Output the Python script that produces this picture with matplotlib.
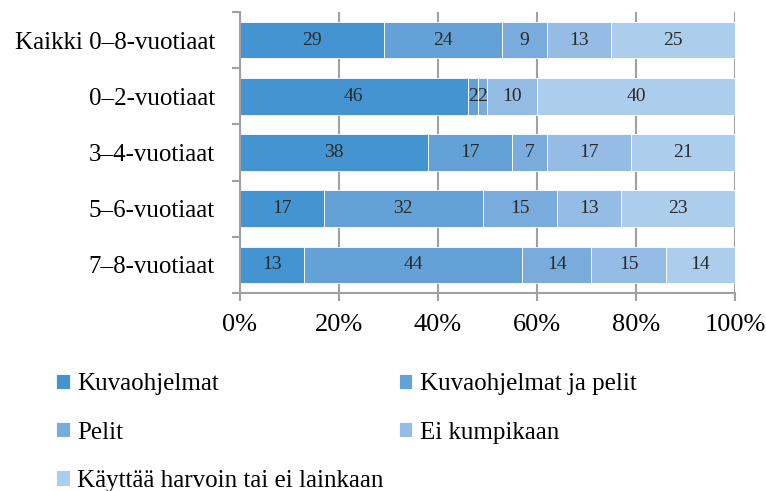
import matplotlib.pyplot as plt
import numpy as np

plt.rcParams['font.family'] = ['Liberation Serif', 'DejaVu Serif']

# data
groups = ['Kaikki 0–8-vuotiaat', '0–2-vuotiaat', '3–4-vuotiaat',
          '5–6-vuotiaat', '7–8-vuotiaat']
series = ['Kuvaohjelmat', 'Kuvaohjelmat ja pelit', 'Pelit',
          'Ei kumpikaan', 'Käyttää harvoin tai ei lainkaan']
kuvaohjelmat = [29, 46, 38, 17, 13]
kuva_ja_pelit = [24, 2, 17, 32, 44]
pelit = [9, 2, 7, 15, 14]
ei_kumpikaan = [13, 10, 17, 13, 15]
harvoin = [25, 40, 21, 23, 14]
colors = ['#4394d0', '#63a1d6', '#79acdd', '#94bce4', '#adcdec']

values = [kuvaohjelmat, kuva_ja_pelit, pelit, ei_kumpikaan, harvoin]

fig = plt.figure(figsize=(7.66, 4.91), dpi=100)
ax = fig.add_axes([0.3133, 0.4033, 0.6462, 0.5723])

y = np.arange(len(groups))
left = np.zeros(len(groups))
handles = []
for vals, name, col in zip(values, series, colors):
    vals = np.array(vals, dtype=float)
    bars = ax.barh(y, vals, left=left, height=0.65, color=col,
                   edgecolor='white', linewidth=0.6, label=name, zorder=2)
    handles.append(bars)
    for xi, yi, v in zip(left + vals / 2, y, vals):
        ax.text(xi, yi, f'{int(v)}', ha='center', va='center',
                fontsize=14, color='#2a2a2a', zorder=3)
    left += vals

ax.set_xlim(0, 100)
ax.set_ylim(len(groups) - 0.5, -0.5)
ax.set_xticks(np.arange(0, 101, 20))
ax.set_xticklabels([f'{t}%' for t in range(0, 101, 20)], fontsize=19)
ax.set_yticks(y)
ax.set_yticklabels(groups, fontsize=18)
ax.set_yticks(np.arange(-0.5, len(groups), 1), minor=True)
ax.tick_params(axis='y', which='major', length=0, pad=18)
ax.tick_params(axis='y', which='minor', length=6, color='#a0a0a0', width=1.5)
ax.tick_params(axis='x', length=6, color='#a0a0a0', width=1.5, pad=9)
ax.grid(axis='x', color='#a0a0a0', linewidth=1.5, zorder=0)
ax.set_axisbelow(True)
for side in ['top', 'right']:
    ax.spines[side].set_visible(False)
for side in ['left', 'bottom']:
    ax.spines[side].set_color('#a0a0a0')
    ax.spines[side].set_linewidth(1.5)

# column-major ordering so the legend reads row by row
order = [0, 2, 4, 1, 3]
fig.legend([handles[i] for i in order], [series[i] for i in order],
           ncol=2, frameon=False, fontsize=18, loc='upper left',
           bbox_to_anchor=(0.06, 0.26), handlelength=0.55, handleheight=0.55,
           handletextpad=0.3, labelspacing=1.05, columnspacing=0.6,
           borderaxespad=0)

fig.savefig('out.png', dpi=100)
